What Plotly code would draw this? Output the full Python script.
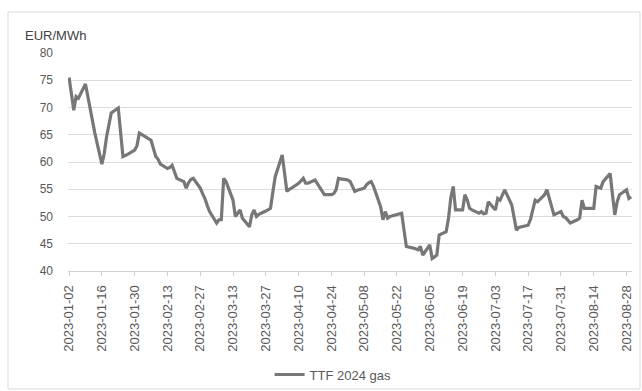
import plotly.graph_objects as go

# TTF 2024 gas forward contract, daily settlement (EUR/MWh)
dates = [
    "2023-01-02", "2023-01-03", "2023-01-04", "2023-01-05", "2023-01-06",
    "2023-01-09", "2023-01-10", "2023-01-11", "2023-01-12", "2023-01-13",
    "2023-01-16", "2023-01-17", "2023-01-18", "2023-01-19", "2023-01-20",
    "2023-01-23", "2023-01-24", "2023-01-25", "2023-01-26", "2023-01-27",
    "2023-01-30", "2023-01-31", "2023-02-01", "2023-02-02", "2023-02-03",
    "2023-02-06", "2023-02-07", "2023-02-08", "2023-02-09", "2023-02-10",
    "2023-02-13", "2023-02-14", "2023-02-15", "2023-02-16", "2023-02-17",
    "2023-02-20", "2023-02-21", "2023-02-22", "2023-02-23", "2023-02-24",
    "2023-02-27", "2023-02-28", "2023-03-01", "2023-03-02", "2023-03-03",
    "2023-03-06", "2023-03-07", "2023-03-08", "2023-03-09", "2023-03-10",
    "2023-03-13", "2023-03-14", "2023-03-15", "2023-03-16", "2023-03-17",
    "2023-03-20", "2023-03-21", "2023-03-22", "2023-03-23", "2023-03-24",
    "2023-03-27", "2023-03-28", "2023-03-29", "2023-03-30", "2023-03-31",
    "2023-04-03", "2023-04-04", "2023-04-05", "2023-04-06", "2023-04-07",
    "2023-04-10", "2023-04-11", "2023-04-12", "2023-04-13", "2023-04-14",
    "2023-04-17", "2023-04-18", "2023-04-19", "2023-04-20", "2023-04-21",
    "2023-04-24", "2023-04-25", "2023-04-26", "2023-04-27", "2023-04-28",
    "2023-05-01", "2023-05-02", "2023-05-03", "2023-05-04", "2023-05-05",
    "2023-05-08", "2023-05-09", "2023-05-10", "2023-05-11", "2023-05-12",
    "2023-05-15", "2023-05-16", "2023-05-17", "2023-05-18", "2023-05-19",
    "2023-05-22", "2023-05-23", "2023-05-24", "2023-05-25", "2023-05-26",
    "2023-05-29", "2023-05-30", "2023-05-31", "2023-06-01", "2023-06-02",
    "2023-06-05", "2023-06-06", "2023-06-07", "2023-06-08", "2023-06-09",
    "2023-06-12", "2023-06-13", "2023-06-14", "2023-06-15", "2023-06-16",
    "2023-06-19", "2023-06-20", "2023-06-21", "2023-06-22", "2023-06-23",
    "2023-06-26", "2023-06-27", "2023-06-28", "2023-06-29", "2023-06-30",
    "2023-07-03", "2023-07-04", "2023-07-05", "2023-07-06", "2023-07-07",
    "2023-07-10", "2023-07-11", "2023-07-12", "2023-07-13", "2023-07-14",
    "2023-07-17", "2023-07-18", "2023-07-19", "2023-07-20", "2023-07-21",
    "2023-07-24", "2023-07-25", "2023-07-26", "2023-07-27", "2023-07-28",
    "2023-07-31", "2023-08-01", "2023-08-02", "2023-08-03", "2023-08-04",
    "2023-08-07", "2023-08-08", "2023-08-09", "2023-08-10", "2023-08-11",
    "2023-08-14", "2023-08-15", "2023-08-16", "2023-08-17", "2023-08-18",
    "2023-08-21", "2023-08-22", "2023-08-23", "2023-08-24", "2023-08-25",
    "2023-08-28", "2023-08-29", "2023-08-30",
]

ttf_2024 = [
    75.5, 72.5, 69.5, 72.0, 71.7,
    74.3, 72.0, 69.5, 67.5, 65.3,
    59.6, 61.5, 64.6, 66.5, 69.0,
    69.9, 65.0, 61.0, 61.2, 61.4,
    62.2, 63.0, 65.3, 65.0, 64.8,
    64.0, 62.5, 61.0, 60.5, 59.6,
    58.8, 59.0, 59.4, 58.0, 57.0,
    56.4, 55.2, 56.2, 56.8, 57.0,
    55.2, 54.2, 53.3, 52.0, 50.9,
    48.8, 49.4, 49.4, 57.0, 56.4,
    53.0, 50.0, 50.5, 51.2, 49.7,
    48.1, 50.3, 51.2, 50.0, 50.4,
    51.0, 51.2, 51.5, 54.5, 57.3,
    61.3, 58.0, 54.6, 55.0, 55.2,
    56.1, 56.6, 57.0, 56.1, 56.1,
    56.7, 56.0, 55.5, 54.6, 54.0,
    54.0, 54.2, 54.9, 57.0, 56.9,
    56.7, 56.4, 55.5, 54.6, 54.8,
    55.2, 55.8, 56.2, 56.4, 55.5,
    51.8, 49.4, 50.9, 49.7, 50.0,
    50.3, 50.4, 50.6, 47.5, 44.5,
    44.2, 44.0, 43.9, 44.5, 42.9,
    44.8, 42.3, 42.6, 42.9, 46.6,
    47.2, 49.7, 53.5, 55.5, 51.2,
    51.2, 54.0, 53.0, 51.5, 51.2,
    50.6, 50.9, 50.5, 50.6, 52.7,
    51.2, 53.3, 53.0, 54.0, 54.9,
    52.1, 49.4, 47.5, 48.0, 48.1,
    48.4, 49.5, 51.2, 53.0, 52.7,
    54.0, 54.9, 53.5, 51.8, 50.3,
    50.9, 50.0, 49.8, 49.4, 48.8,
    49.4, 49.7, 53.0, 51.5, 51.5,
    51.5, 55.5, 55.3, 55.2, 56.4,
    57.9, 54.0, 50.3, 52.7, 54.0,
    54.9, 53.3, 53.6,
]

y_ticks = [40, 45, 50, 55, 60, 65, 70, 75, 80]

W, H = 642, 391
L, R, T, B = 68, 10, 53, 120
pw, ph = W - L - R, H - T - B

fig = go.Figure()
fig.add_trace(go.Scatter(
    x=dates, y=ttf_2024, mode="lines", name="TTF 2024 gas",
    line=dict(color="#777777", width=3.2),
))

FONT = "Liberation Sans, Arial, sans-serif"
y_font = dict(family=FONT, size=12, color="#595959")
x_font = dict(family=FONT, size=13, color="#595959")
DAY = 86400000

fig.update_layout(
    width=W, height=H,
    margin=dict(l=L, r=R, t=T, b=B, autoexpand=False),
    paper_bgcolor="white", plot_bgcolor="white",
    showlegend=True,
    legend=dict(
        orientation="h", x=0.47, xanchor="center", y=-0.475, yanchor="middle",
        font=dict(family=FONT, size=13, color="#595959"),
        bgcolor="rgba(0,0,0,0)",
    ),
    xaxis=dict(
        type="date",
        range=["2023-01-01 13:00", "2023-08-30 08:00"],
        tick0="2023-01-02", dtick=14 * DAY, tickformat="%Y-%m-%d",
        tickangle=-90, tickfont=x_font, ticklabelstandoff=4,
        ticks="outside", ticklen=4, tickcolor="#d0d0d0",
        showgrid=False, showline=True, linecolor="#d0d0d0", linewidth=1,
        zeroline=False, automargin=False, fixedrange=True,
    ),
    yaxis=dict(
        range=[40, 80], tickvals=y_ticks, tickfont=y_font,
        showgrid=True, gridcolor="#dcdcdc", gridwidth=1,
        showline=False, zeroline=False, ticks="",
        ticklabelstandoff=14, automargin=False, fixedrange=True,
    ),
    annotations=[dict(
        text="EUR/MWh", xref="paper", yref="paper",
        x=(23 - L) / pw, y=(H - B - 36) / ph,
        xanchor="left", yanchor="middle", showarrow=False,
        font=dict(family=FONT, size=13, color="#404040"),
    )],
    shapes=[dict(
        type="rect", xref="paper", yref="paper",
        x0=(8 - L) / pw, x1=(640 - L) / pw,
        y0=(H - B - 389) / ph, y1=(H - B - 12) / ph,
        line=dict(color="#d9d9d9", width=1), fillcolor="rgba(0,0,0,0)",
        layer="below",
    )],
)

fig.write_html("out.html")
